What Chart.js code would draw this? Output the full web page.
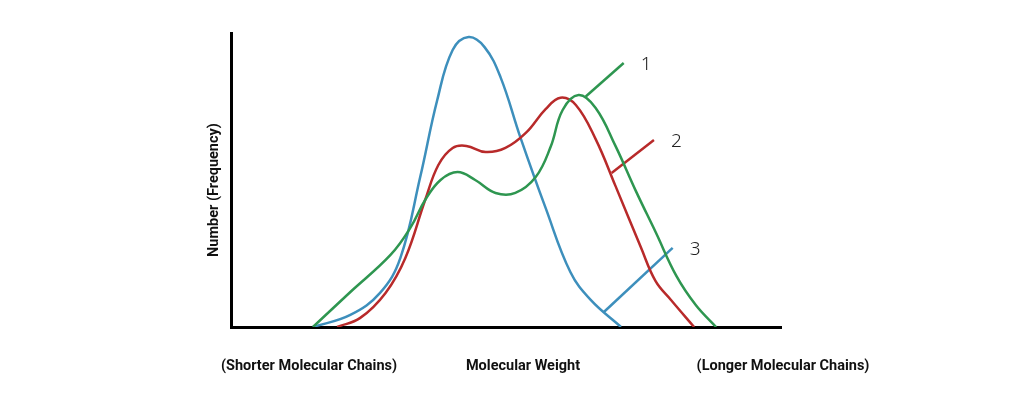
<!DOCTYPE html>
<html>
<head>
<meta charset="utf-8">
<script src="https://cdn.jsdelivr.net/npm/chart.js@4/dist/chart.umd.min.js"></script>
<style>
  html, body { margin: 0; padding: 0; background: #fff; }
  #wrap { width: 1024px; height: 403px; position: relative; }
</style>
</head>
<body>
<div id="wrap"><canvas id="mwChart"></canvas></div>
<script>
// Curve values (x = molecular weight, y = frequency, both 0-100)
const blueX  = [14.9, 21.7, 27.1, 30.8, 34.4, 37.5, 40.3, 43.2, 46.1, 49.0, 52.6, 57.2, 61.7, 65.4, 70.9];
const blueY  = [0, 4.1, 11.6, 23.5, 51.0, 77.2, 94.2, 98.6, 95.2, 85.0, 64.6, 40.5, 18.7, 9.2, 0];
const redX   = [19.3, 23.5, 28.1, 31.7, 35.3, 37.7, 40.3, 42.8, 46.3, 49.9, 53.6, 57.2, 59.9, 62.7, 66.3, 69.9, 74.5, 77.2, 80.0, 84.2];
const redY   = [0, 3.1, 11.6, 23.5, 43.2, 55.1, 60.9, 61.6, 59.5, 60.9, 66.0, 74.1, 78.0, 75.5, 63.9, 48.0, 27.2, 15.6, 9.2, 0];
const greenX = [14.9, 21.7, 29.0, 32.6, 35.3, 38.1, 41.2, 44.4, 48.1, 51.7, 55.4, 58.1, 60.3, 63.2, 66.3, 69.9, 73.6, 77.2, 81.0, 84.5, 88.2];
const greenY = [0, 11.9, 24.5, 33.7, 43.2, 50.0, 52.7, 50.0, 45.6, 45.6, 51.0, 61.2, 73.8, 78.9, 74.5, 61.6, 46.3, 32.3, 17.3, 7.5, 0];

// leader lines from each curve to its number label
const leaderLabels = ['1', '2', '3'];
const leaderX = [[64.5, 71.4], [69.2, 76.9], [67.8, 80.3]];
const leaderY = [[78.4, 89.8], [52.4, 63.6], [5.1, 26.9]];

const axisLabels = ['(Shorter Molecular Chains)', 'Molecular Weight', '(Longer Molecular Chains)'];
const yTitle = 'Number (Frequency)';

const GREEN = '#2e9650';
const RED = '#b82a2a';
const BLUE = '#3d8fbc';
const leaderColors = [GREEN, RED, BLUE];

function toPoints(xs, ys) {
  return xs.map((x, i) => ({ x: x, y: ys[i] }));
}

function curve(xs, ys, color) {
  return {
    data: toPoints(xs, ys),
    borderColor: color,
    borderWidth: 2.5,
    pointRadius: 0,
    fill: false,
    tension: 0.4
  };
}

const datasets = [
  curve(greenX, greenY, GREEN),
  curve(redX, redY, RED),
  curve(blueX, blueY, BLUE)
];
leaderX.forEach((xs, i) => {
  datasets.push({
    data: toPoints(xs, leaderY[i]),
    borderColor: leaderColors[i],
    borderWidth: 2.5,
    pointRadius: 0,
    tension: 0
  });
});

// text: number labels, bottom labels and rotated y title
const textPlugin = {
  id: 'textPlugin',
  afterDraw(chart) {
    const ctx = chart.ctx;
    const xs = chart.scales.x, ys = chart.scales.y;
    const area = chart.chartArea;
    ctx.save();
    ctx.fillStyle = '#222';
    ctx.font = '300 19px "Noto Sans"';
    ctx.textBaseline = 'middle';
    ctx.textAlign = 'left';
    leaderLabels.forEach((t, i) => {
      const px = xs.getPixelForValue(leaderX[i][1]);
      const py = ys.getPixelForValue(leaderY[i][1]);
      ctx.fillText(t, px + 17, py + 2);
    });

    ctx.fillStyle = '#111';
    ctx.font = 'bold 14.5px Roboto';
    ctx.textAlign = 'center';
    const by = 366;
    ctx.fillText(axisLabels[0], 309, by);
    ctx.fillText(axisLabels[1], 523, by);
    ctx.fillText(axisLabels[2], 783, by);

    ctx.translate(214, (area.top + area.bottom) / 2 + 10);
    ctx.rotate(-Math.PI / 2);
    ctx.fillText(yTitle, 0, 0);
    ctx.restore();
  }
};

new Chart(document.getElementById('mwChart'), {
  type: 'line',
  data: { datasets: datasets },
  options: {
    responsive: true,
    maintainAspectRatio: false,
    animation: false,
    layout: { padding: { left: 223, right: 243, top: 33, bottom: 68 } },
    plugins: { legend: { display: false }, tooltip: { enabled: false } },
    scales: {
      x: {
        type: 'linear', min: 0, max: 100,
        grid: { display: false },
        ticks: { display: false },
        border: { display: true, color: '#000', width: 3 }
      },
      y: {
        min: 0, max: 100,
        grid: { display: false },
        ticks: { display: false },
        border: { display: true, color: '#000', width: 3 }
      }
    }
  },
  plugins: [textPlugin]
});
</script>
</body>
</html>
